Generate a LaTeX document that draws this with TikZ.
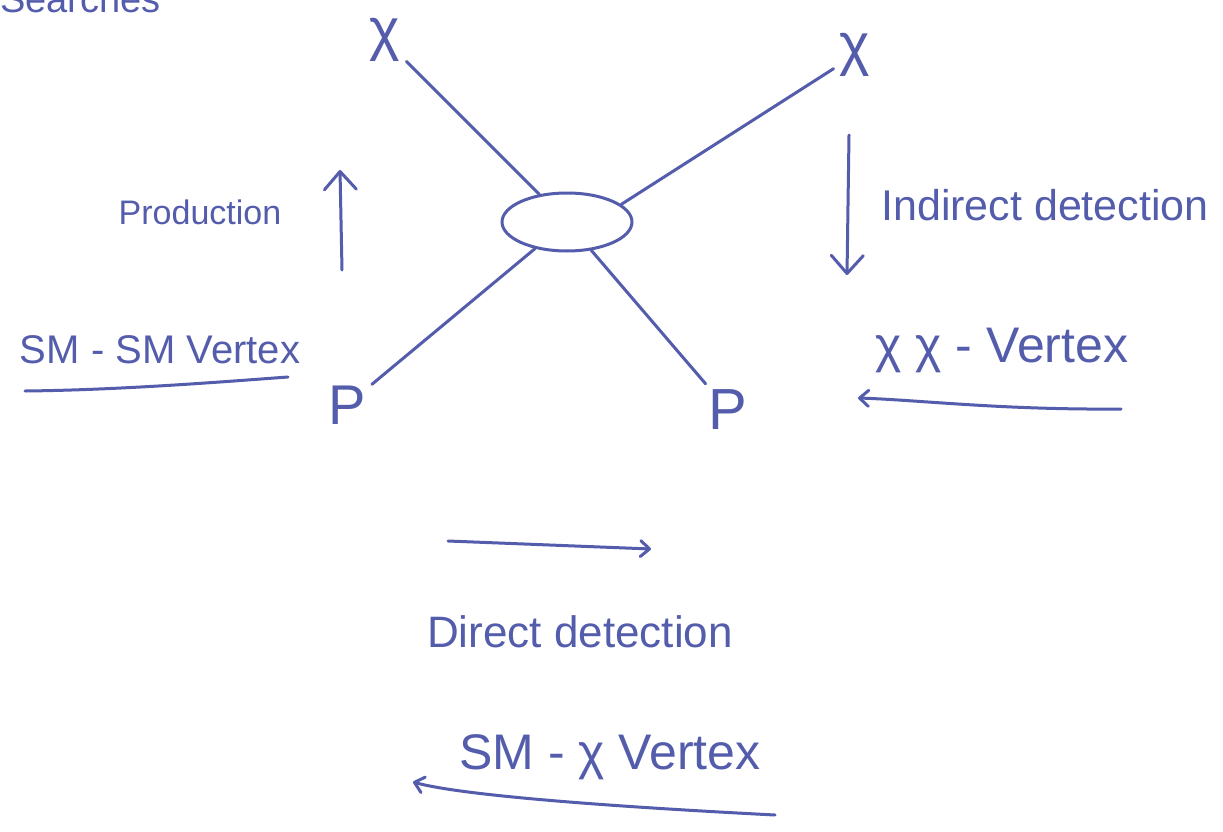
\documentclass[tikz,border=0pt]{standalone}
\usepackage{fontspec}
\setmainfont{Liberation Sans}
\usetikzlibrary{arrows.meta,shapes.geometric}
\definecolor{ink}{RGB}{84,92,172}
\begin{document}
\begin{tikzpicture}[x=1pt,y=-1pt,
  pen/.style={draw=ink,line width=3pt,line cap=round,line join=round},
  hand/.style={text=ink,inner sep=0pt},
  particle/.style={hand,inner sep=6pt},
  bigbarb/.style={-{Straight Barb[round,length=18pt,width=32pt]}},
  smallbarb/.style={-{Straight Barb[round,length=9pt,width=16pt]}},
]
\useasboundingbox[fill=white] (0,0) rectangle (1223,832);

% heading, partly above the page edge
\node[hand,anchor=base west,font=\fontsize{38}{40}\selectfont] (title) at (0,13) {Searches};

% interaction blob and the four external legs
\node[pen,ellipse,minimum width=130pt,minimum height=58pt,inner sep=0pt] (blob) at (567,222) {};

\node[particle,font=\fontsize{58}{60}\selectfont] (chiL) at (385,40) {χ};
\node[particle,font=\fontsize{58}{60}\selectfont] (chiR) at (855,55) {χ};
\node[particle,font=\fontsize{56}{58}\selectfont] (pL) at (347,405) {P};
\node[particle,font=\fontsize{58}{60}\selectfont] (pR) at (728,410) {P};

\draw[pen] (chiL) -- (blob);
\draw[pen] (chiR) -- (blob.18);
\draw[pen] (pL) -- (blob);
\draw[pen] (pR) -- (blob);

% production channel
\node[hand,font=\fontsize{34}{36}\selectfont] (prod) at (200,212) {Production};
\node[hand,font=\fontsize{40}{42}\selectfont] (smsm) at (160,350) {SM - SM Vertex};
\coordinate (prodTail) at (342,270);
\coordinate (prodHead) at (340,170);
\draw[pen,bigbarb] (prodTail) -- (prodHead);
\coordinate (smsmL) at (25,391);
\coordinate (smsmR) at (288,377);
\draw[pen] (smsmL) .. controls (120,390) and (220,382) .. (smsmR);

% indirect detection channel
\node[hand,font=\fontsize{43}{45}\selectfont] (indirect) at (1045,205) {Indirect detection};
\node[hand,font=\fontsize{50}{52}\selectfont] (xxv) at (1002,350) {χ χ - Vertex};
\coordinate (indTail) at (849,135);
\coordinate (indHead) at (847,275);
\draw[pen,bigbarb] (indTail) -- (indHead);
\coordinate (xxR) at (1121,409);
\coordinate (xxL) at (858,398);
\draw[pen,smallbarb] (xxR) .. controls (1000,410) and (920,400) .. (xxL);

% direct detection channel
\coordinate (dirTail) at (448,541);
\coordinate (dirHead) at (651,549);
\draw[pen,smallbarb] (dirTail) -- (dirHead);
\node[hand,font=\fontsize{44}{46}\selectfont] (direct) at (580,632) {Direct detection};
\node[hand,font=\fontsize{50}{52}\selectfont] (smx) at (610,757) {SM - χ Vertex};
\coordinate (smxR) at (775,815);
\coordinate (smxL) at (413,782);
\draw[pen,smallbarb] (smxR) .. controls (600,806) and (460,795) .. (smxL);
\end{tikzpicture}
\end{document}
